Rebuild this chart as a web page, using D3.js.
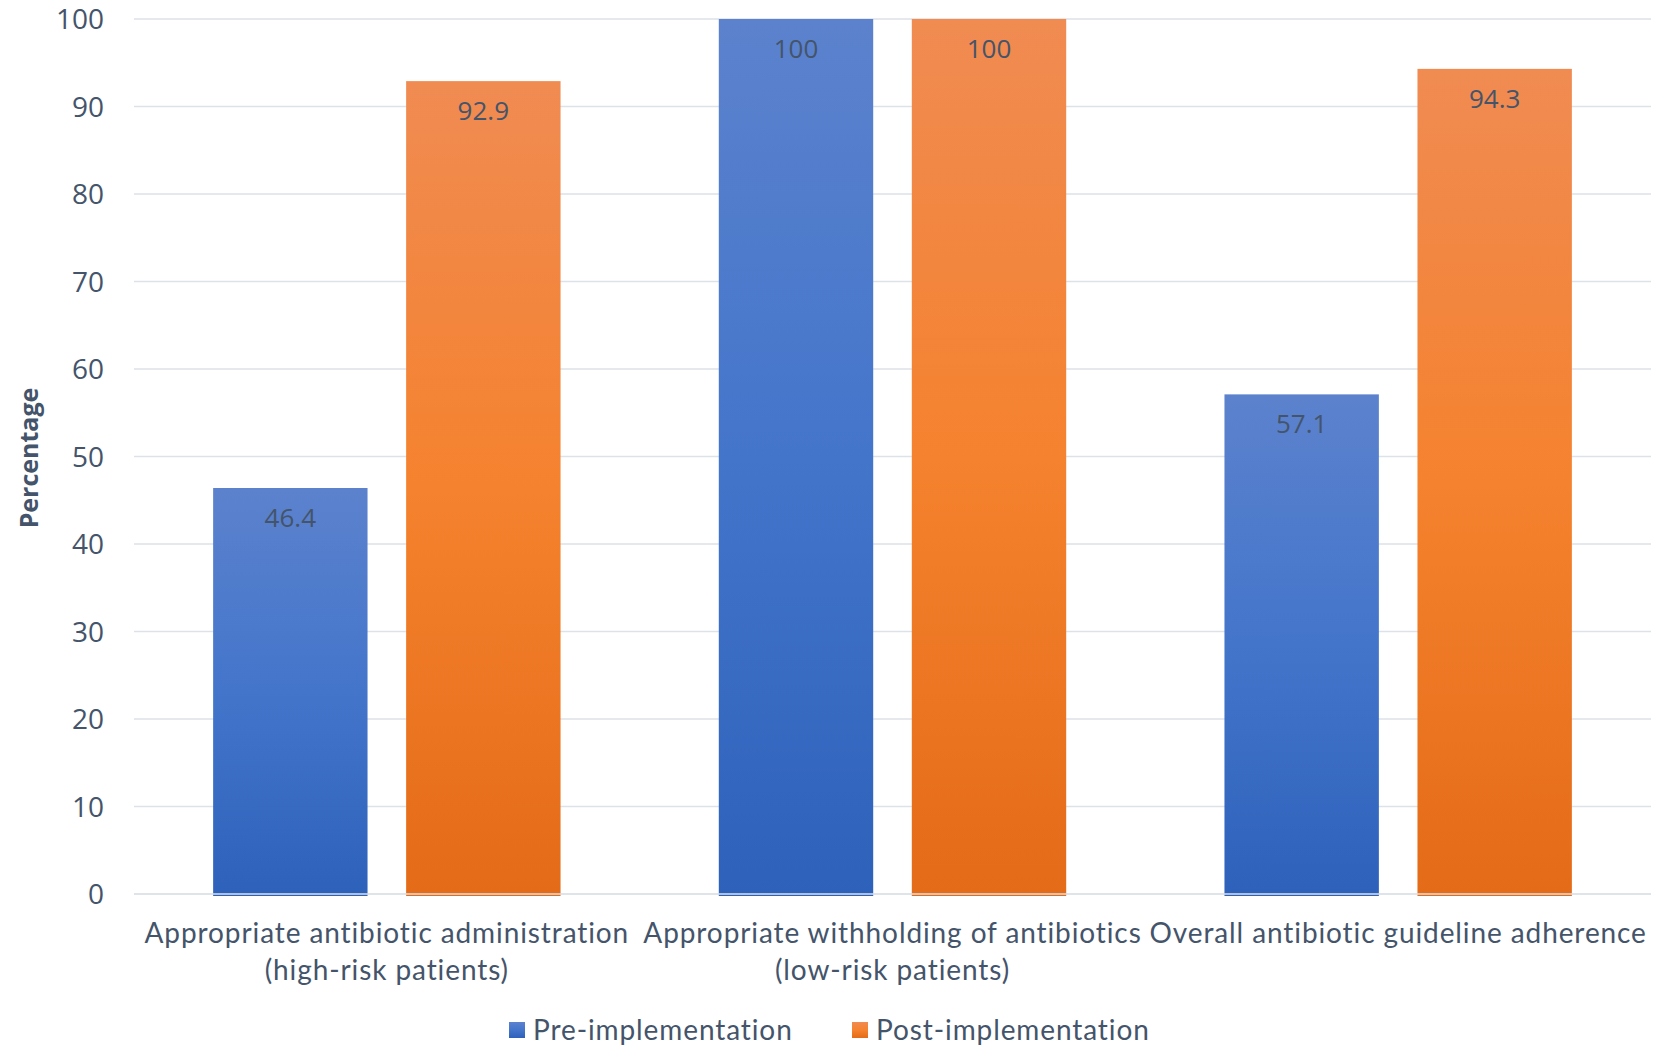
<!DOCTYPE html>
<html>
<head>
<meta charset="utf-8">
<script src="https://cdn.jsdelivr.net/npm/d3@7"></script>
<style>
  body { margin: 0; background: #fff; }
  svg { display: block; }
</style>
</head>
<body>
<svg width="1670" height="1045"></svg>
<script>
// chart values
var categories = [
    ["Appropriate antibiotic administration", "(high-risk patients)"],
    ["Appropriate withholding of antibiotics", "(low-risk patients)"],
    ["Overall antibiotic guideline adherence"]
];
var seriesNames = ["Pre-implementation", "Post-implementation"];
var preValues = [46.4, 100, 57.1];
var postValues = [92.9, 100, 94.3];
var yTicks = [0, 10, 20, 30, 40, 50, 60, 70, 80, 90, 100];

var textColor = "#44546A";

var svg = d3.select("svg"),
    width = +svg.attr("width"),
    height = +svg.attr("height");

var margin = {top: 19, right: 19, bottom: 151, left: 134};

var rows = categories.map(function (c, i) {
    return {cat: i, values: [preValues[i], postValues[i]]};
});

var x0 = d3.scaleBand()
    .domain(d3.range(categories.length))
    .range([margin.left, width - margin.right])
    .padding(0);

var x1 = d3.scaleBand()
    .domain(d3.range(seriesNames.length))
    .range([0, x0.bandwidth()])
    .paddingInner(0.2)
    .paddingOuter(0.41);

var y = d3.scaleLinear()
    .domain([0, 100])
    .range([height - margin.bottom, margin.top]);

// gradients, one per series
var defs = svg.append("defs");
var grads = [
    ["#5C82CD", "#4375CB", "#2E61BA"],
    ["#F08B52", "#F5822E", "#E46B18"]
];
grads.forEach(function (g, i) {
    var lg = defs.append("linearGradient")
        .attr("id", "grad" + i)
        .attr("x1", 0).attr("y1", 0)
        .attr("x2", 0).attr("y2", 1);
    lg.append("stop").attr("offset", "0%").attr("stop-color", g[0]);
    lg.append("stop").attr("offset", "50%").attr("stop-color", g[1]);
    lg.append("stop").attr("offset", "100%").attr("stop-color", g[2]);
});

// gridlines
svg.append("g")
    .attr("class", "grid")
    .selectAll("line")
    .data(yTicks)
    .enter().append("line")
    .attr("x1", margin.left)
    .attr("x2", width - margin.right)
    .attr("y1", function (d) { return y(d); })
    .attr("y2", function (d) { return y(d); })
    .attr("stroke", "#DDE2E9")
    .attr("stroke-width", 1.6);

// bars
var group = svg.append("g")
    .selectAll("g")
    .data(rows)
    .enter().append("g")
    .attr("transform", function (d) { return "translate(" + x0(d.cat) + ",0)"; });

group.selectAll("rect")
    .data(function (d) { return d.values.map(function (v, i) { return {s: i, v: v}; }); })
    .enter().append("rect")
    .attr("x", function (d) { return x1(d.s); })
    .attr("width", x1.bandwidth())
    .attr("y", function (d) { return y(d.v); })
    .attr("height", function (d) { return y(0) - y(d.v) + 2; })
    .attr("fill", function (d) { return "url(#grad" + d.s + ")"; });

// zero line over the bars
svg.append("line")
    .attr("x1", margin.left)
    .attr("x2", width - margin.right)
    .attr("y1", y(0))
    .attr("y2", y(0))
    .attr("stroke", "#DDE2E9")
    .attr("stroke-width", 1.6);

// value labels inside the top of each bar
group.selectAll("text")
    .data(function (d) { return d.values.map(function (v, i) { return {s: i, v: v}; }); })
    .enter().append("text")
    .attr("x", function (d) { return x1(d.s) + x1.bandwidth() / 2; })
    .attr("y", function (d) { return y(d.v) + 39; })
    .attr("text-anchor", "middle")
    .attr("font-family", "Open Sans, sans-serif")
    .attr("font-size", 26)
    .attr("fill", textColor)
    .text(function (d) { return d.v; });

// y axis
var yAxis = svg.append("g")
    .attr("transform", "translate(" + (margin.left - 30) + ",0)")
    .call(d3.axisLeft(y).tickValues(yTicks).tickSize(0).tickPadding(0));
yAxis.select(".domain").remove();
yAxis.selectAll("text")
    .attr("font-family", "Open Sans, sans-serif")
    .attr("font-size", 28)
    .attr("fill", textColor)
    .attr("dy", "0.35em");

svg.append("text")
    .attr("transform", "translate(38," + 458 + ") rotate(-90)")
    .attr("text-anchor", "middle")
    .attr("font-family", "Open Sans, sans-serif")
    .attr("font-weight", "bold")
    .attr("font-size", 25)
    .attr("fill", textColor)
    .text("Percentage");

// category labels
var catLabels = svg.append("g")
    .selectAll("text")
    .data(categories)
    .enter().append("text")
    .attr("text-anchor", "middle")
    .attr("font-family", "Lato, sans-serif")
    .attr("font-size", 28)
    .attr("letter-spacing", 0.9)
    .attr("fill", textColor)
    .attr("transform", function (d, i) {
        return "translate(" + (x0(i) + x0.bandwidth() / 2) + "," + (y(0) + 49) + ")";
    });

catLabels.selectAll("tspan")
    .data(function (d) { return d; })
    .enter().append("tspan")
    .attr("x", 0)
    .attr("dy", function (d, i) { return i === 0 ? 0 : 37; })
    .text(function (d) { return d; });

// legend
var legendX = [509, 852];
var legend = svg.append("g")
    .selectAll("g")
    .data(seriesNames)
    .enter().append("g")
    .attr("transform", function (d, i) { return "translate(" + legendX[i] + ",1030)"; });

legend.append("rect")
    .attr("x", 0)
    .attr("y", -8)
    .attr("width", 16)
    .attr("height", 16)
    .attr("fill", function (d, i) { return "url(#grad" + i + ")"; });

legend.append("text")
    .attr("x", 24)
    .attr("dy", "0.35em")
    .attr("font-family", "Lato, sans-serif")
    .attr("font-size", 28)
    .attr("letter-spacing", 0.9)
    .attr("fill", textColor)
    .text(function (d) { return d; });
</script>
</body>
</html>
